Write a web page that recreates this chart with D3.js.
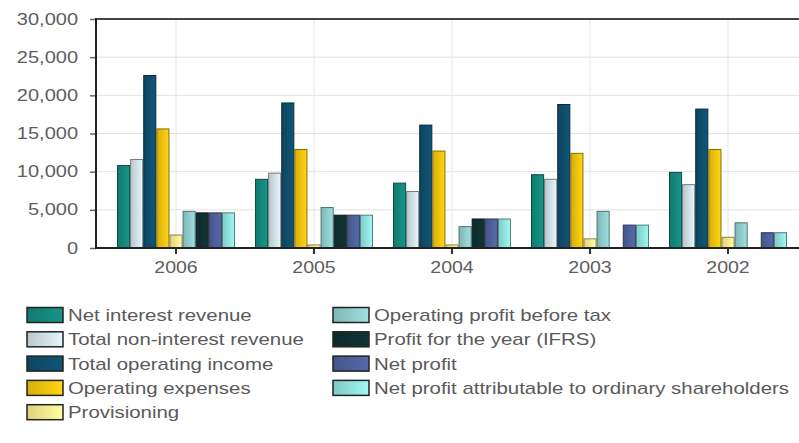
<!DOCTYPE html>
<html><head><meta charset="utf-8">
<script src="https://cdn.jsdelivr.net/npm/d3@7"></script>
<style>html,body{margin:0;padding:0;background:#fff;}svg{display:block;}</style>
</head><body>
<svg id="c" width="799" height="443"></svg>
<script>
const years = ["2006","2005","2004","2003","2002"];
const seriesNames = ["Net interest revenue","Total non-interest revenue","Total operating income","Operating expenses","Provisioning","Operating profit before tax","Profit for the year (IFRS)","Net profit","Net profit attributable to ordinary shareholders"];
const netInterestRevenue   = [10800, 9000, 8500, 9600, 9900];
const totalNonInterest     = [11600, 9800, 7400, 9000, 8300];
const totalOperatingIncome = [22600, 19000, 16100, 18800, 18200];
const operatingExpenses    = [15600, 12900, 12700, 12400, 12900];
const provisioning         = [1700, 400, 400, 1200, 1400];
const operatingProfitBT    = [4800, 5300, 2800, 4800, 3300];
const profitForYear        = [4600, 4300, 3800, 0, 0];
const netProfit            = [4600, 4300, 3800, 3000, 2000];
const netProfitAttr        = [4600, 4300, 3800, 3000, 2000];
const yTicks = [0, 5000, 10000, 15000, 20000, 25000, 30000];
const colors = ["#14877b","#cfdde2","#0e4d6b","#f2c10e","#fbe88e","#8fcaca","#0f2f30","#4d5f99","#8fe0da"];

const seriesValues = [netInterestRevenue,totalNonInterest,totalOperatingIncome,operatingExpenses,provisioning,operatingProfitBT,profitForYear,netProfit,netProfitAttr];

const svg = d3.select("#c");
const pLeft = 96, pRight = 799, pTop = 19, pBottom = 248;
const x0 = d3.scaleBand().domain(years).range([107, 797]).paddingInner(0.145).paddingOuter(0.0725);
const x1 = d3.scaleBand().domain(d3.range(seriesNames.length)).range([0, x0.bandwidth()]);
const y = d3.scaleLinear().domain([0, 30000]).range([pBottom, pTop]);

function stretch(sel, k){
  sel.each(function(){
    const w = this.getComputedTextLength();
    if (w > 0) { this.setAttribute("textLength", w*k); this.setAttribute("lengthAdjust","spacingAndGlyphs"); }
  });
}

// gradients
const defs = svg.append("defs");
colors.forEach((c,i)=>{
  const g = defs.append("linearGradient").attr("id","g"+i).attr("x1","0").attr("x2","1").attr("y1","0").attr("y2","0");
  g.append("stop").attr("offset","0").attr("stop-color", d3.color(c).darker(0.3));
  g.append("stop").attr("offset","1").attr("stop-color", d3.color(c).brighter(0.3));
});

// grid
svg.append("g").selectAll("line").data(yTicks.filter(t=>t>0&&t<30000)).join("line")
  .attr("x1", pLeft).attr("x2", pRight).attr("y1", d=>y(d)).attr("y2", d=>y(d))
  .attr("stroke","#e2e2e2").attr("stroke-width",1);
svg.append("g").selectAll("line").data(years).join("line")
  .attr("x1", d=>x0(d)+x0.bandwidth()/2).attr("x2", d=>x0(d)+x0.bandwidth()/2)
  .attr("y1", pTop).attr("y2", pBottom)
  .attr("stroke","#e2e6ee").attr("stroke-width",1);

// bars
const groups = svg.append("g").selectAll("g").data(years).join("g")
  .attr("transform", d=>`translate(${x0(d)},0)`);
groups.selectAll("rect").data((d,yi)=>seriesValues.map((arr,si)=>({si, v: arr[yi]})).filter(e=>e.v>0)).join("rect")
  .attr("x", d=>x1(d.si)+0.5).attr("width", x1.bandwidth()-1)
  .attr("y", d=>y(d.v)).attr("height", d=>pBottom - y(d.v))
  .attr("fill", d=>`url(#g${d.si})`)
  .attr("stroke", d=>d3.color(colors[d.si]).darker(1.6)).attr("stroke-width",1);

// axes
const yAxis = svg.append("g").attr("transform",`translate(${pLeft},0)`)
  .call(d3.axisLeft(y).tickValues(yTicks).tickFormat(d3.format(",")).tickSize(6).tickPadding(12));
yAxis.select(".domain").remove();
yAxis.selectAll(".tick line").attr("stroke","#666").attr("stroke-width",1.5);
yAxis.selectAll("text").attr("font-family","Liberation Sans, Arial, sans-serif").attr("font-size",16).attr("fill","#5e5e5e").call(stretch, 1.25);

const xAxis = svg.append("g").attr("transform",`translate(0,${pBottom})`)
  .call(d3.axisBottom(x0).tickSize(6).tickPadding(8));
xAxis.select(".domain").remove();
xAxis.selectAll(".tick line").attr("stroke","#333").attr("stroke-width",2);
xAxis.selectAll("text").attr("font-family","Liberation Sans, Arial, sans-serif").attr("font-size",16).attr("fill","#5e5e5e").call(stretch, 1.22);

// frame lines
svg.append("line").attr("x1",pLeft).attr("x2",pRight).attr("y1",pTop).attr("y2",pTop).attr("stroke","#444").attr("stroke-width",2);
svg.append("line").attr("x1",pLeft).attr("x2",pRight).attr("y1",pBottom).attr("y2",pBottom).attr("stroke","#222").attr("stroke-width",2);
svg.append("line").attr("x1",pLeft).attr("x2",pLeft).attr("y1",pTop-1).attr("y2",pBottom+1).attr("stroke","#222").attr("stroke-width",2);

// legend
const legendCols = [{x:27, items:[0,1,2,3,4]}, {x:333, items:[5,6,7,8]}];
const legend = svg.append("g");
legendCols.forEach(col=>{
  col.items.forEach((si,ri)=>{
    const cy = 315 + ri*24.3;
    legend.append("rect").attr("x", col.x).attr("y", cy-7.5).attr("width",36).attr("height",15)
      .attr("fill",`url(#g${si})`).attr("stroke","#222").attr("stroke-width",1.5);
    legend.append("text").attr("x", col.x+41).attr("y", cy).attr("dy","0.36em")
      .attr("font-family","Liberation Sans, Arial, sans-serif").attr("font-size",17).attr("fill","#5a5a5a")
      .text(seriesNames[si]).call(stretch, 1.2);
  });
});
</script>
</body></html>
